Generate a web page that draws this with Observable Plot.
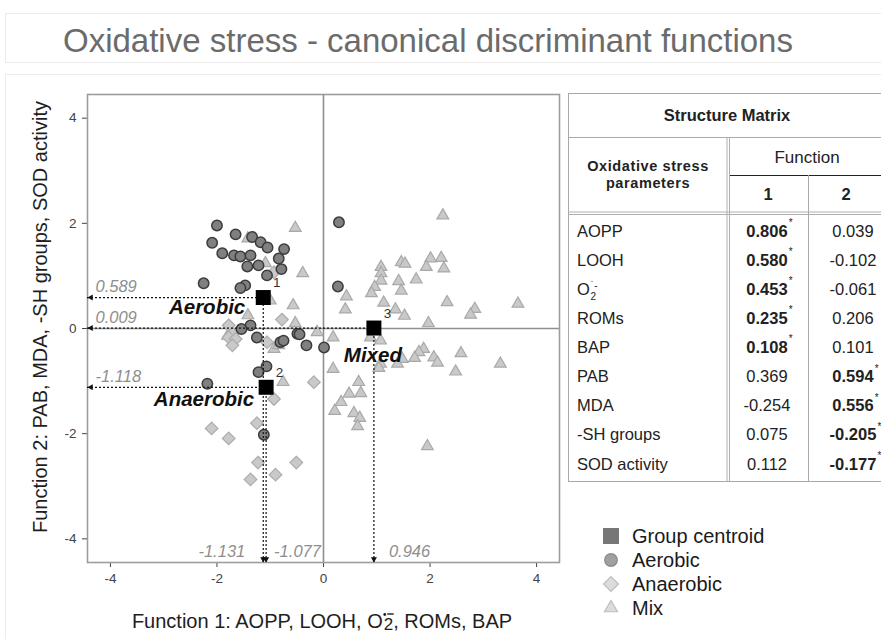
<!DOCTYPE html>
<html><head><meta charset="utf-8">
<script src="https://cdn.jsdelivr.net/npm/d3@7"></script>
<script src="https://cdn.jsdelivr.net/npm/@observablehq/plot@0.6"></script>
<style>
html,body{margin:0;padding:0;background:#fff;}
body{width:881px;height:639px;overflow:hidden;position:relative;font-family:"Liberation Sans",Arial,sans-serif;}
</style></head><body>
<script>
// ---------- data ----------
const titleText = "Oxidative stress - canonical discriminant functions";
const xTicks = [-4, -2, 0, 2, 4];
const yTicks = [-4, -2, 0, 2, 4];
const groups = ["Aerobic", "Anaerobic", "Mixed"];
const centroidIds = ["1", "2", "3"];
const centroidF1 = [-1.131, -1.077, 0.946];
const centroidF2 = [0.589, -1.118, 0.009];

const aerobicPts = [
  [-2.00,1.96],[-1.65,1.79],[-2.09,1.63],[-1.34,1.74],[-1.18,1.64],[-1.05,1.54],[-0.74,1.51],
  [-1.90,1.43],[-1.68,1.39],[-1.56,1.37],[-1.37,1.39],[-0.84,1.33],[-1.43,1.18],[-1.22,1.20],
  [-0.79,1.13],[-1.06,1.01],[-2.25,0.86],[-1.47,0.82],[-1.56,0.77],[-1.37,0.06],[-1.54,-0.01],
  [-1.25,-0.17],[-0.81,-0.26],[-0.75,-0.23],[-0.49,-0.10],[-0.45,-0.11],[-0.32,-0.32],
  [0.01,-0.36],[-1.07,-0.72],[-1.22,-0.83],[-2.18,-1.05],[-1.12,-2.02],[0.29,2.02],[0.27,0.80]
];
const anaerobicPts = [
  [-0.93,1.07],[-0.78,0.17],[-1.78,0.06],[-1.71,-0.10],[-1.78,-0.17],[-1.65,-0.20],[-1.71,-0.32],
  [-1.06,-0.26],[-0.18,-1.02],[-0.93,-1.34],[-1.25,-1.80],[-2.10,-1.90],[-1.78,-2.09],
  [-1.23,-2.55],[-0.51,-2.55],[-0.90,-2.78],[-1.37,-2.87]
];
const mixPts = [
  [-0.53,1.91],[-1.42,1.71],[-1.09,1.24],[-0.39,1.05],[-0.57,0.44],[-1.00,0.53],[-0.53,0.10],
  [-0.12,-0.07],[-1.42,0.25],[-1.80,-0.14],[2.24,2.15],[1.46,1.26],[1.53,1.23],[2.01,1.33],
  [2.21,1.34],[1.93,1.17],[2.26,1.14],[1.08,1.17],[1.08,1.05],[1.08,0.91],[0.96,0.79],
  [0.90,0.67],[1.41,0.90],[1.46,0.72],[1.74,0.93],[0.43,0.61],[0.41,0.36],[1.13,0.49],
  [1.35,0.36],[1.52,0.24],[2.32,0.50],[2.84,0.37],[2.76,0.26],[3.65,0.47],[1.97,0.10],
  [0.18,-0.17],[0.88,-0.17],[1.07,-0.23],[1.88,-0.39],[1.79,-0.45],[1.71,-0.56],[1.48,-0.58],
  [1.39,-0.67],[1.07,-0.67],[1.04,-0.75],[2.07,-0.55],[2.14,-0.65],[2.58,-0.47],[2.48,-0.82],
  [3.32,-0.67],[0.18,-0.77],[0.66,-1.02],[0.48,-1.24],[0.70,-1.23],[0.33,-1.40],[0.21,-1.57],
  [0.57,-1.61],[0.68,-1.70],[0.64,-1.86],[1.95,-2.24],[-0.93,-0.39],[-0.84,-0.32],[-0.76,-1.02]
];

const tableTitle = "Structure Matrix";
const paramHeader = ["Oxidative stress", "parameters"];
const functionHeader = "Function";
const functionIds = ["1", "2"];
const params = ["AOPP", "LOOH", "O2", "ROMs", "BAP", "PAB", "MDA", "-SH groups", "SOD activity"];
const func1 = [0.806, 0.580, 0.453, 0.235, 0.108, 0.369, -0.254, 0.075, 0.112];
const func2 = [0.039, -0.102, -0.061, 0.206, 0.101, 0.594, 0.556, -0.205, -0.177];
const sigFunction = [1, 1, 1, 1, 1, 2, 2, 2, 2];

const legendLabels = ["Group centroid", "Aerobic", "Anaerobic", "Mix"];
const xLabelParts = ["Function 1: AOPP, LOOH, O", "2", ", ROMs, BAP"];
const yLabel = "Function 2: PAB, MDA, -SH groups, SOD activity";

// ---------- plot ----------
const FONT = '"Liberation Sans", Arial, sans-serif';
const xDomain = [-4.43, 4.43], yDomain = [-4.45, 4.45];
const toObj = arr => arr.map(([x, y]) => ({x, y}));
const aer = toObj(aerobicPts), ana = toObj(anaerobicPts), mix = toObj(mixPts);
const cent = groups.map((g, i) => ({group: g, id: centroidIds[i], x: centroidF1[i], y: centroidF2[i]}));
const fmt = v => v.toFixed(3);
const left = () => xDomain[0], bottom = () => yDomain[0];
const dash = {stroke: "#111", strokeWidth: 1.2, strokeDasharray: "2,2"};
const valStyle = {fill: "#8e8e8e", fontStyle: "italic", fontSize: 16.5};
const grpStyle = {fill: "#111", fontStyle: "italic", fontWeight: "bold", fontSize: 20.5};
const only = g => d => d.group === g;

const chart = Plot.plot({
  width: 570, height: 639,
  marginLeft: 87, marginRight: 11, marginTop: 94, marginBottom: 77,
  style: {fontFamily: FONT, fontSize: "13.5px", color: "#444", background: "transparent", overflow: "visible"},
  x: {domain: xDomain, ticks: xTicks, tickSize: 5, tickPadding: 6, label: null, tickFormat: d => String(d)},
  y: {domain: yDomain, ticks: yTicks, tickSize: 5, tickPadding: 6, label: null, tickFormat: d => String(d)},
  marks: [
    Plot.frame({stroke: "#9d9d9d", strokeWidth: 1.6}),
    Plot.ruleX([0], {stroke: "#8f8f8f", strokeWidth: 1.6}),
    Plot.ruleY([0], {stroke: "#8f8f8f", strokeWidth: 1.6}),
    Plot.dot(mix, {x: "x", y: "y", symbol: "triangle2", r: 5.6, fill: "#c9c9c9", stroke: "#a9a9a9", strokeWidth: 1.2}),
    Plot.dot(ana, {x: "x", y: "y", symbol: "diamond2", r: 5.7, fill: "#c9c9c9", stroke: "#acacac", strokeWidth: 1.2}),
    Plot.dot(aer, {x: "x", y: "y", symbol: "circle", r: 5.2, fill: "#808080", stroke: "#3c3c3c", strokeWidth: 1.5}),
    Plot.ruleY(cent, {y: "y", x1: left, x2: "x", ...dash}),
    Plot.ruleX(cent, {x: "x", y1: bottom, y2: "y", ...dash}),
    Plot.dot(cent, {x: left, y: "y", symbol: "triangle2", r: 2.9, rotate: -90, dx: 3.5, fill: "#111", stroke: "none"}),
    Plot.dot(cent, {x: "x", y: bottom, symbol: "triangle2", r: 2.9, rotate: 180, dy: -3.5, fill: "#111", stroke: "none"}),
    Plot.dot(cent, {x: "x", y: "y", symbol: "square", r: 8.46, fill: "#000", stroke: "none"}),
    Plot.text(cent, {x: left, y: "y", text: d => fmt(d.y), textAnchor: "start", dx: 8, dy: -10.5, ...valStyle}),
    Plot.text(cent, {filter: only("Aerobic"), x: "x", y: bottom, text: d => fmt(d.x), textAnchor: "end", dx: -18, dy: -11, ...valStyle}),
    Plot.text(cent, {filter: only("Anaerobic"), x: "x", y: bottom, text: d => fmt(d.x), textAnchor: "start", dx: 8, dy: -11, ...valStyle}),
    Plot.text(cent, {filter: only("Mixed"), x: "x", y: bottom, text: d => fmt(d.x), textAnchor: "start", dx: 15, dy: -11, ...valStyle}),
    Plot.text(cent, {filter: only("Aerobic"), x: "x", y: "y", text: "group", textAnchor: "end", dx: -18, dy: 10, ...grpStyle}),
    Plot.text(cent, {filter: only("Anaerobic"), x: "x", y: "y", text: "group", textAnchor: "end", dx: -12, dy: 12, ...grpStyle}),
    Plot.text(cent, {filter: only("Mixed"), x: "x", y: "y", text: "group", textAnchor: "middle", dx: -1, dy: 27, ...grpStyle}),
    Plot.text(cent, {x: "x", y: "y", text: "id", dx: 13.5, dy: -14.5, fill: "#333", fontSize: 13.5})
  ]
});
chart.style.position = "absolute";
chart.style.left = "0px";
chart.style.top = "0px";
document.body.appendChild(chart);

// ---------- overlay: title, axis labels, legend, table ----------
const ov = d3.select("body").append("svg")
  .attr("width", 881).attr("height", 639)
  .style("position", "absolute").style("left", "0px").style("top", "0px")
  .style("pointer-events", "none")
  .attr("font-family", FONT);

ov.append("rect").attr("x", 5.5).attr("y", 13.5).attr("width", 900).attr("height", 49)
  .attr("fill", "none").attr("stroke", "#ebebeb");
ov.append("rect").attr("x", 5.5).attr("y", 74.5).attr("width", 900).attr("height", 700)
  .attr("fill", "none").attr("stroke", "#ebebeb");

ov.append("text").attr("x", 63).attr("y", 52).attr("font-size", 33).attr("fill", "#6b6b6b").text(titleText);

// x axis label with superoxide radical notation (dot + bar drawn as marks over the "2")
const xl = ov.append("text").attr("x", 322).attr("y", 628).attr("text-anchor", "middle")
  .attr("font-size", 20).attr("fill", "#1e1e1e");
xl.append("tspan").text(xLabelParts[0]);
xl.append("tspan").attr("font-size", 17).attr("dx", 1).attr("dy", 1.5).text(xLabelParts[1]);
xl.append("tspan").attr("dy", -1.5).text(xLabelParts[2]);
{
  const idx = xLabelParts[0].length;
  const p0 = xl.node().getStartPositionOfChar(idx);
  const p1 = xl.node().getEndPositionOfChar(idx);
  ov.append("circle").attr("cx", p0.x + 1).attr("cy", p0.y - 15).attr("r", 1.4).attr("fill", "#1e1e1e");
  ov.append("line").attr("x1", p0.x + 3.5).attr("x2", p1.x + 0.5).attr("y1", p0.y - 15.5).attr("y2", p0.y - 15.5)
    .attr("stroke", "#1e1e1e").attr("stroke-width", 1.4);
}

ov.append("text").attr("transform", "translate(47,317) rotate(-90)").attr("text-anchor", "middle")
  .attr("font-size", 20).attr("fill", "#1e1e1e").text(yLabel);

// legend
const legY = [536, 560, 584, 608];
const legX = 611;
const legSym = [
  {type: d3.symbolSquare, size: 256, fill: "#777", stroke: "none"},
  {type: d3.symbolCircle, size: Math.PI * 6.3 * 6.3, fill: "#a0a0a0", stroke: "#8a8a8a"},
  {type: d3.symbolDiamond2, size: 140, fill: "#dcdcdc", stroke: "#bdbdbd"},
  {type: d3.symbolTriangle2, size: 120, fill: "#dcdcdc", stroke: "#bdbdbd"}
];
legendLabels.forEach((lab, i) => {
  const s = legSym[i];
  ov.append("path").attr("transform", `translate(${legX},${legY[i]})`)
    .attr("d", d3.symbol(s.type, s.size)()).attr("fill", s.fill).attr("stroke", s.stroke).attr("stroke-width", 1.2);
  ov.append("text").attr("x", 632).attr("y", legY[i]).attr("dy", "0.35em")
    .attr("font-size", 20).attr("fill", "#1a1a1a").text(lab);
});

// table
const T = {l: 568, t: 93, r: 900, b: 481, split: 728, col: 808, fn: 175, hdr: 213, titleSep: 137};
const g = ov.append("g");
const ln = (x1, y1, x2, y2, c = "#aaaaaa", w = 1) => g.append("line")
  .attr("x1", x1).attr("y1", y1).attr("x2", x2).attr("y2", y2).attr("stroke", c).attr("stroke-width", w);
g.append("rect").attr("x", T.l + 0.5).attr("y", T.t + 0.5).attr("width", T.r - T.l).attr("height", T.b - T.t)
  .attr("fill", "none").attr("stroke", "#a8a8a8");
ln(T.l, T.titleSep + 0.5, T.r, T.titleSep + 0.5);
ln(T.split - 1, T.titleSep, T.split - 1, T.b, "#b0b0b0");
ln(T.split + 1.5, T.titleSep, T.split + 1.5, T.b, "#b0b0b0");
ln(T.l, T.hdr - 1, T.r, T.hdr - 1, "#b0b0b0");
ln(T.l, T.hdr + 1.5, T.r, T.hdr + 1.5, "#b0b0b0");
ln(T.split + 2, T.fn + 0.5, T.r, T.fn + 0.5, "#222");
ln(T.col + 0.5, T.fn, T.col + 0.5, T.b, "#aaaaaa");

const tx = (x, y, s, opt = {}) => g.append("text").attr("x", x).attr("y", y).attr("dy", "0.35em")
  .attr("text-anchor", opt.anchor || "middle").attr("font-size", opt.size || 16)
  .attr("font-weight", opt.bold ? "bold" : "normal").attr("fill", opt.fill || "#222")
  .attr("letter-spacing", opt.ls || 0).text(s);

tx(727, 115, tableTitle, {bold: true, size: 16.5});
tx(648, 166, paramHeader[0], {bold: true, size: 14.5, ls: 0.6});
tx(648, 183, paramHeader[1], {bold: true, size: 14.5, ls: 0.6});
tx(807, 157, functionHeader, {size: 17});
tx(768, 194, functionIds[0], {bold: true, size: 16.5});
tx(846, 194, functionIds[1], {bold: true, size: 16.5});

const rowY = i => 231 + i * 29.1;
const colX = [767, 853];
params.forEach((p, i) => {
  const y = rowY(i);
  if (p === "O2") {
    const t = tx(577, y, "O", {anchor: "start", size: 16.5});
    t.append("tspan").attr("font-size", 10).attr("dy", -6).attr("dx", 1).text("˙-");
    t.append("tspan").attr("font-size", 10).attr("dy", 11).attr("dx", -7).text("2");
  } else {
    tx(577, y, p, {anchor: "start", size: 16.5});
  }
  [func1[i], func2[i]].forEach((v, j) => {
    const bold = sigFunction[i] === j + 1;
    const t = tx(colX[j], y, fmt(v), {bold, size: 16.5});
    if (bold) {
      const w = t.node().getComputedTextLength();
      g.append("text").attr("x", colX[j] + w / 2 + 1).attr("y", y - 5).attr("font-size", 10)
        .attr("fill", "#222").text("*");
    }
  });
});
</script>
</body></html>
